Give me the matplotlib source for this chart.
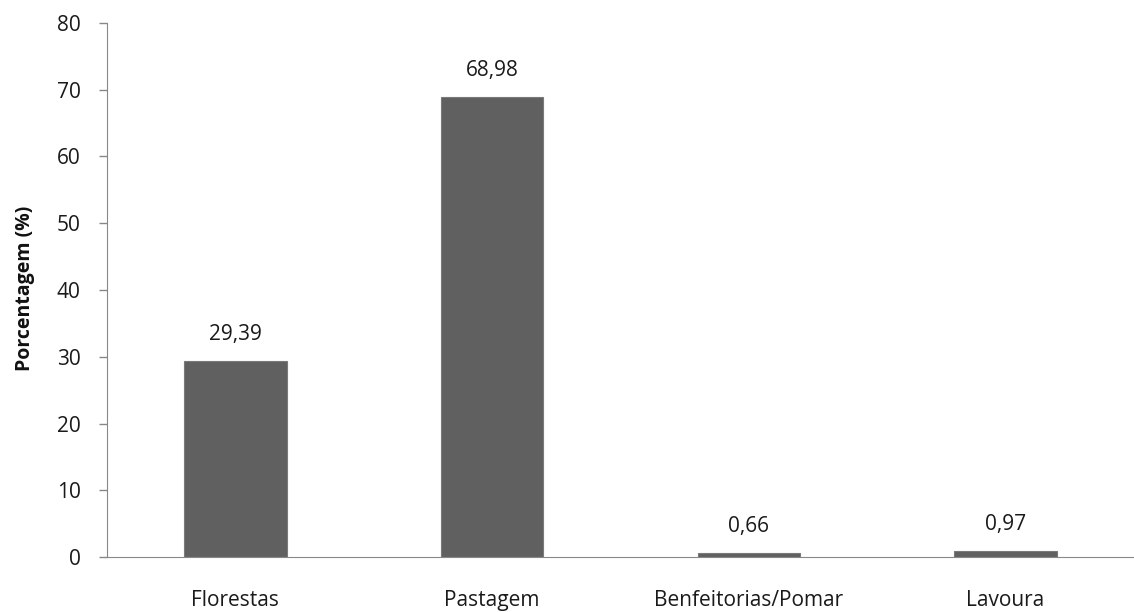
import matplotlib
matplotlib.use("Agg")
import matplotlib.pyplot as plt

categories = ["Florestas", "Pastagem", "Benfeitorias/Pomar", "Lavoura"]
values = [29.39, 68.98, 0.66, 0.97]
value_labels = ["29,39", "68,98", "0,66", "0,97"]
yticks = [0, 10, 20, 30, 40, 50, 60, 70, 80]

plt.rcParams["font.family"] = ["Open Sans", "DejaVu Sans"]

fig = plt.figure(figsize=(11.34, 6.12), dpi=100)
ax = fig.add_axes([107 / 1134, 1 - 557 / 612, (1134 - 107) / 1134, (557 - 23) / 612])

x = list(range(len(categories)))
ax.bar(x, values, width=0.4, color="#606060", edgecolor="#7a7a7a", linewidth=0.8, zorder=2)

for xi, v, lab in zip(x, values, value_labels):
    ax.annotate(lab, (xi, v), xytext=(0, 19), textcoords="offset points",
                ha="center", va="center", fontsize=15, color="#1a1a1a")

ax.set_xlim(-0.5, len(categories) - 0.5)
ax.set_ylim(0, 80)
ax.set_yticks(yticks)
ax.set_yticklabels([str(t) for t in yticks], fontsize=15, color="#1a1a1a")
ax.set_xticks(x)
ax.set_xticklabels(categories, fontsize=15, color="#1a1a1a")
ax.tick_params(axis="x", length=0, pad=23.5)
ax.tick_params(axis="y", length=6, width=1, color="#888888", pad=13)

for s in ["top", "right"]:
    ax.spines[s].set_visible(False)
ax.spines["left"].set_color("#888888")
ax.spines["bottom"].set_color("#888888")

fig.text(25 / 1134, 1 - 288 / 612, "Porcentagem (%)", rotation=90, fontsize=14,
         fontweight="bold", ha="center", va="center", color="#111111")

fig.savefig("out.png", dpi=100)
